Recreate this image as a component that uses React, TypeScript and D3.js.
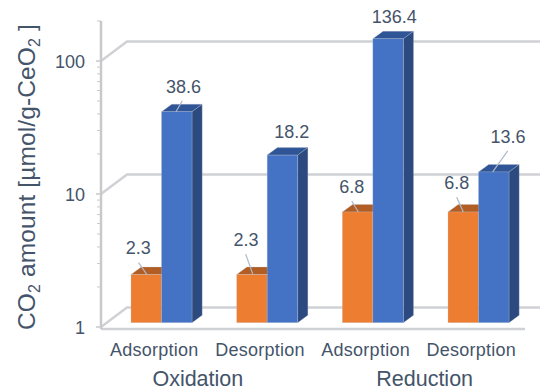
import React from "react";
import * as d3 from "d3";

// CO2 uptake and release per treatment, plotted on a log axis
const treatments = ["Oxidation", "Reduction"];
const steps = ["Adsorption", "Desorption", "Adsorption", "Desorption"];
const orangeValues = [2.3, 2.3, 6.8, 6.8];
const blueValues = [38.6, 18.2, 136.4, 13.6];
const orangeLabels = ["2.3", "2.3", "6.8", "6.8"];
const blueLabels = ["38.6", "18.2", "136.4", "13.6"];
const majorTicks = [1, 10, 100];
const minorTicks = [2, 3, 4, 5, 6, 7, 8, 9, 20, 30, 40, 50, 60, 70, 80, 90, 200];

const W = 540;
const H = 387;
const FONT = "'Liberation Sans', Arial, sans-serif";
const TEXT = "#44546a";
const GRID = "#d0d1d5";
const AXIS = "#c9c9c9";
const LEADER = "#adb9ca";
const EDGE = "#c4c8d0";

// Log scale for the front plane of the plot
const y = d3.scaleLog().domain([1, 100]).range([327, 61]);
const BAR_BASE = y(1) - 4.3;
const barY = (v: number) => BAR_BASE + y(v) - y(1);

const x = d3.scaleLinear().domain([0, 3]).range([131, 448]);
const BAR_W = 30.5;
const DX = 10.2;
const DY = -7.5;
const WALL_DX = 26;
const WALL_DY = -19.5;

// [label centre dx, baseline dy, leader start dx, leader end dx, leader end dy], relative to the bar's front top-left corner
const orangeNotes = [
  [7.3, -20.6, 16, 7.5, -12],
  [9.3, -29, 16.3, 9, -20.5],
  [9.4, -19.3, 16, 9.4, -11],
  [8.7, -23, 15.3, 8.7, -14.7],
];
const blueNotes = [
  [21.9, -19, 14.5, 20.8, -11],
  [24.5, -17, 0, 0, 0],
  [21.5, -16, 0, 0, 0],
  [29.5, -29.3, 14.2, 29.2, -21],
];
const treatmentNudge = [14, 29.5];

function Box({ left, top, fill, side, cap }: { left: number; top: number; fill: string; side?: string; cap: string }) {
  const r = left + BAR_W;
  return (
    <g stroke={EDGE} strokeWidth={0.6} strokeOpacity={0.45}>
      <path d={`M${left},${top}l${DX},${DY}h${BAR_W}l${-DX},${-DY}z`} fill={cap} />
      {side && <path d={`M${r},${top}l${DX},${DY}V${BAR_BASE + DY}l${-DX},${-DY}z`} fill={side} />}
      <rect x={left} y={top} width={BAR_W} height={BAR_BASE - top} fill={fill} />
    </g>
  );
}

function Label({ cx, cy, size, spacing, children }: { cx: number; cy: number; size: number; spacing?: number; children: React.ReactNode }) {
  return (
    <text x={cx} y={cy} textAnchor="middle" fontFamily={FONT} fontSize={size} letterSpacing={spacing} fill={TEXT}>
      {children}
    </text>
  );
}

export default function App() {
  const axisX = 101;
  return (
    <svg width={W} height={H} style={{ position: "absolute", left: 0, top: 0, background: "#fff" }}>
      {/* back wall grid and its diagonal returns to the front axis */}
      {majorTicks.map((t) => (
        <path key={t} d={`M${axisX},${y(t)}l${WALL_DX},${WALL_DY}H${W}`} fill="none" stroke={GRID} strokeWidth={2.4} />
      ))}
      {/* floor edge and vertical axis */}
      <line x1={axisX} x2={525} y1={y(1) + 2} y2={y(1) + 2} stroke={GRID} strokeWidth={2.5} />
      <line x1={axisX} x2={axisX} y1={21} y2={y(1) + 2} stroke={AXIS} strokeWidth={2.5} />
      {majorTicks.map((t) => (
        <line key={t} x1={96} x2={axisX} y1={y(t)} y2={y(t)} stroke={AXIS} strokeWidth={1.5} />
      ))}
      {minorTicks.map((t) => (
        <line key={t} x1={97} x2={axisX} y1={y(t)} y2={y(t)} stroke={AXIS} strokeWidth={1} />
      ))}
      {majorTicks.map((t) => (
        <text key={t} x={85} y={y(t) + 6.7} textAnchor="end" fontFamily={FONT} fontSize={18} fill={TEXT}>
          {t}
        </text>
      ))}

      {/* bars, orange first so the blue side sits on top */}
      {steps.map((_, i) => (
        <g key={i}>
          <Box left={x(i)} top={barY(orangeValues[i])} fill="#ed7d31" cap="#b25d24" />
          <Box left={x(i) + BAR_W} top={barY(blueValues[i])} fill="#4472c4" side="#2c4a80" cap="#305596" />
        </g>
      ))}

      {/* value labels and leader lines */}
      {steps.map((_, i) => {
        const ol = x(i);
        const ot = barY(orangeValues[i]);
        const bl = x(i) + BAR_W;
        const bt = barY(blueValues[i]);
        const o = orangeNotes[i];
        const b = blueNotes[i];
        return (
          <g key={i}>
            <line x1={ol + o[2]} y1={ot} x2={ol + o[3]} y2={ot + o[4]} stroke={LEADER} strokeWidth={1.2} />
            {b[2] > 0 && <line x1={bl + b[2]} y1={bt} x2={bl + b[3]} y2={bt + b[4]} stroke={LEADER} strokeWidth={1.2} />}
            <Label cx={ol + o[0]} cy={ot + o[1]} size={18}>{orangeLabels[i]}</Label>
            <Label cx={bl + b[0]} cy={bt + b[1]} size={18}>{blueLabels[i]}</Label>
          </g>
        );
      })}

      {/* category levels */}
      {steps.map((s, i) => (
        <Label key={i} cx={x(i) + 23.3} cy={355.5} size={18} spacing={0.25}>{s}</Label>
      ))}
      {treatments.map((t, i) => (
        <Label key={t} cx={(x(2 * i) + x(2 * i + 1)) / 2 + treatmentNudge[i]} cy={386} size={21.5}>{t}</Label>
      ))}

      {/* axis title with subscripts */}
      <text transform="translate(35,330) rotate(-90)" fontFamily={FONT} fontSize={24.5} letterSpacing={0.12} fill={TEXT}>
        CO<tspan fontSize={16} dy={4.5}>2</tspan>
        <tspan dy={-4.5}> amount [µmol/g-CeO</tspan>
        <tspan fontSize={16} dy={4.5}>2</tspan>
        <tspan dy={-4.5}> ]</tspan>
      </text>
    </svg>
  );
}
